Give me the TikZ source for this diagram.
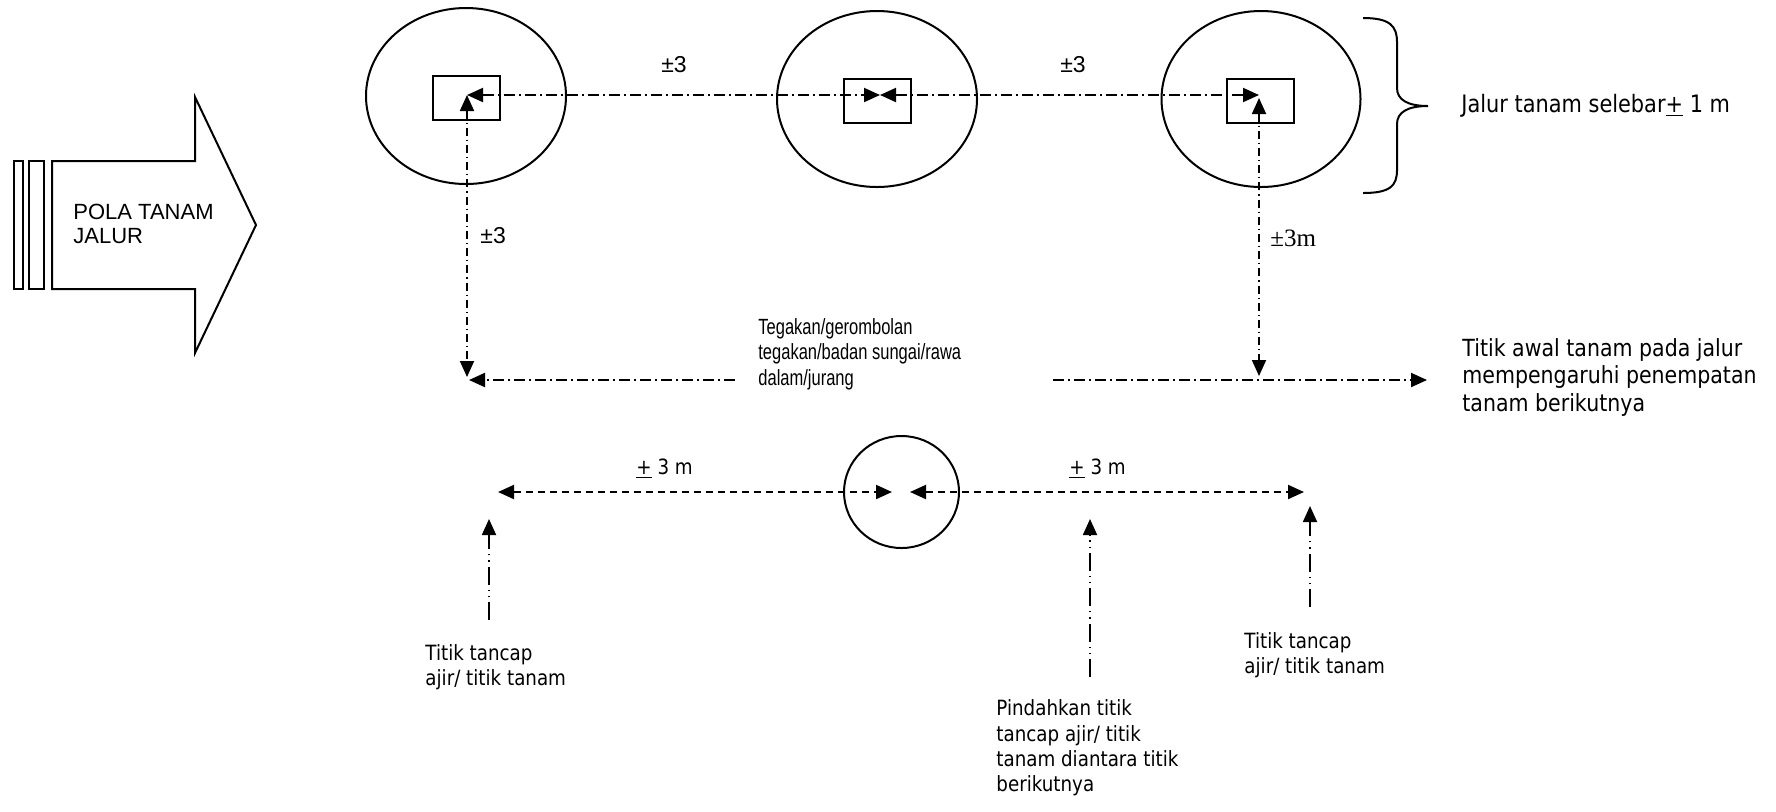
\documentclass[tikz,border=0pt]{standalone}
\usepackage{fontspec}
\usepackage{tikz}
\usetikzlibrary{shapes.geometric,arrows.meta,positioning,calc}

\newfontfamily\tahoma[FakeStretch=0.87]{DejaVu Sans}
\newfontfamily\arial{Liberation Sans}
\newfontfamily\narrow[FakeStretch=0.75]{Liberation Sans}
\newfontfamily\timesfont{Liberation Serif}

\begin{document}
\begin{tikzpicture}[x=0.5pt, y=-0.5pt,
    pohon/.style={ellipse, draw, line width=1pt, minimum width=100pt, minimum height=88pt, inner sep=0pt},
    ajir/.style={rectangle, draw, line width=1pt, minimum width=33.5pt, minimum height=22pt, inner sep=0pt},
    teks/.style={inner sep=0pt, anchor=west, align=left},
    panah/.style={-{Triangle[length=8pt,width=7pt]}},
    panah2/.style={{Triangle[length=8pt,width=7pt]}-{Triangle[length=8pt,width=7pt]}},
    garis/.style={line width=1pt, dash pattern=on 5.5pt off 2pt on 1pt off 2pt},
    tegak/.style={line width=0.9pt, dash pattern=on 4pt off 2pt on 0.6pt off 2pt},
    putus/.style={line width=1pt, dash pattern=on 3.5pt off 2.5pt},
    tunjuk/.style={line width=0.9pt, dash pattern=on 9pt off 2.5pt on 0.6pt off 2.5pt on 0.6pt off 2.5pt}
]
    \useasboundingbox (0,0) rectangle (1776,811);

    % panah besar
    \draw[line width=1pt] (14,161) rectangle (22.7,289);
    \draw[line width=1pt] (29,161) rectangle (44.3,289);
    \draw[line width=1pt] (52,161) -- (195,161) -- (195,97) -- (256,225)
        -- (195,353) -- (195,289) -- (52,289) -- cycle;
    \node[teks, font=\arial\fontsize{11}{12}\selectfont] (pola) at (73,224) {POLA TANAM\\JALUR};

    % jalur tanam
    \node[pohon] (c1) at (466,96) {};
    \node[pohon] (c2) at (877,99) {};
    \node[pohon, minimum width=99.5pt] (c3) at (1261,99) {};
    \node[ajir] (b1) at (466.5,98) {};
    \node[ajir] (b2) at (877,101) {};
    \node[ajir] (b3) at (1260.5,101) {};

    \coordinate (m1) at (467,95);
    \coordinate (m2) at (880,95);
    \coordinate (m3) at (1259,95);
    \coordinate (m3b) at (1259,98);
    \coordinate (s1) at (467,377);
    \coordinate (s2) at (1259,376);
    \coordinate (s1a) at (469,380);
    \coordinate (s1b) at (735,380);
    \coordinate (s2a) at (1053,380);
    \coordinate (s2b) at (1427,380);

    \draw[garis, panah2] (m1) -- (m2);
    \draw[garis, panah2] (m2) -- (m3);
    \draw[tegak, panah2] (m1) -- (s1);
    \draw[tegak, panah2] (m3b) -- (s2);
    \draw[garis, panah] (s1b) -- (s1a);
    \draw[garis, panah] (s2a) -- (s2b);

    \node[font=\arial\fontsize{11.5}{13}\selectfont] (l1) at (674,65) {±3};
    \node[font=\arial\fontsize{11.5}{13}\selectfont] (l2) at (1073,65) {±3};
    \node[teks, font=\arial\fontsize{11.5}{13}\selectfont] (l3) at (480,236) {±3};
    \node[teks, font=\timesfont\fontsize{12.5}{14}\selectfont] (l4) at (1270,238) {±3m};

    \draw[line width=1pt] (1363,18) .. controls (1390,18) and (1397,26) .. (1397,42)
        -- (1397,88) .. controls (1397,100) and (1408,106) .. (1428,106)
        .. controls (1408,106) and (1397,112) .. (1397,124)
        -- (1397,170) .. controls (1397,186) and (1390,193) .. (1363,193);
    \node[teks, font=\tahoma\fontsize{12}{14}\selectfont] (lebar) at (1461,106) {Jalur tanam selebar\underline{+} 1 m};

    \node[teks, font=\narrow\fontsize{11}{12.75}\selectfont] (tegakan) at (758,354)
        {Tegakan/gerombolan\\tegakan/badan sungai/rawa\\dalam/jurang};
    \node[teks, font=\tahoma\fontsize{11.8}{13.75}\selectfont] (awal) at (1462,377)
        {Titik awal tanam pada jalur\\mempengaruhi penempatan\\tanam berikutnya};

    % pemindahan titik tanam
    \node[pohon, minimum width=57.5pt, minimum height=56pt] (c4) at (901.5,492) {};
    \coordinate (d1) at (498,492);
    \coordinate (d2) at (892,492);
    \coordinate (d3) at (910,492);
    \coordinate (d4) at (1304,492);
    \draw[putus, panah2] (d1) -- (d2);
    \draw[putus, panah2] (d3) -- (d4);
    \node[teks, font=\tahoma\fontsize{10.5}{12.5}\selectfont] (j1) at (636,469) {\underline{+} 3 m};
    \node[teks, font=\tahoma\fontsize{10.5}{12.5}\selectfont] (j2) at (1069,469) {\underline{+} 3 m};

    \coordinate (u1) at (489,519);
    \coordinate (u1b) at (489,620);
    \coordinate (u2) at (1090,519);
    \coordinate (u2b) at (1090,677);
    \coordinate (u3) at (1310,506);
    \coordinate (u3b) at (1310,607);
    \draw[tunjuk, panah] (u1b) -- (u1);
    \draw[tunjuk, panah] (u2b) -- (u2);
    \draw[tunjuk, panah] (u3b) -- (u3);

    \node[teks, font=\tahoma\fontsize{10.5}{12.3}\selectfont] (tancap1) at (425,667) {Titik tancap\\ajir/ titik tanam};
    \node[teks, font=\tahoma\fontsize{10.5}{12.3}\selectfont] (tancap2) at (1244,655) {Titik tancap\\ajir/ titik tanam};
    \node[teks, font=\tahoma\fontsize{10.5}{12.65}\selectfont] (pindah) at (996,748)
        {Pindahkan titik\\tancap ajir/ titik\\tanam diantara titik\\berikutnya};
\end{tikzpicture}
\end{document}
